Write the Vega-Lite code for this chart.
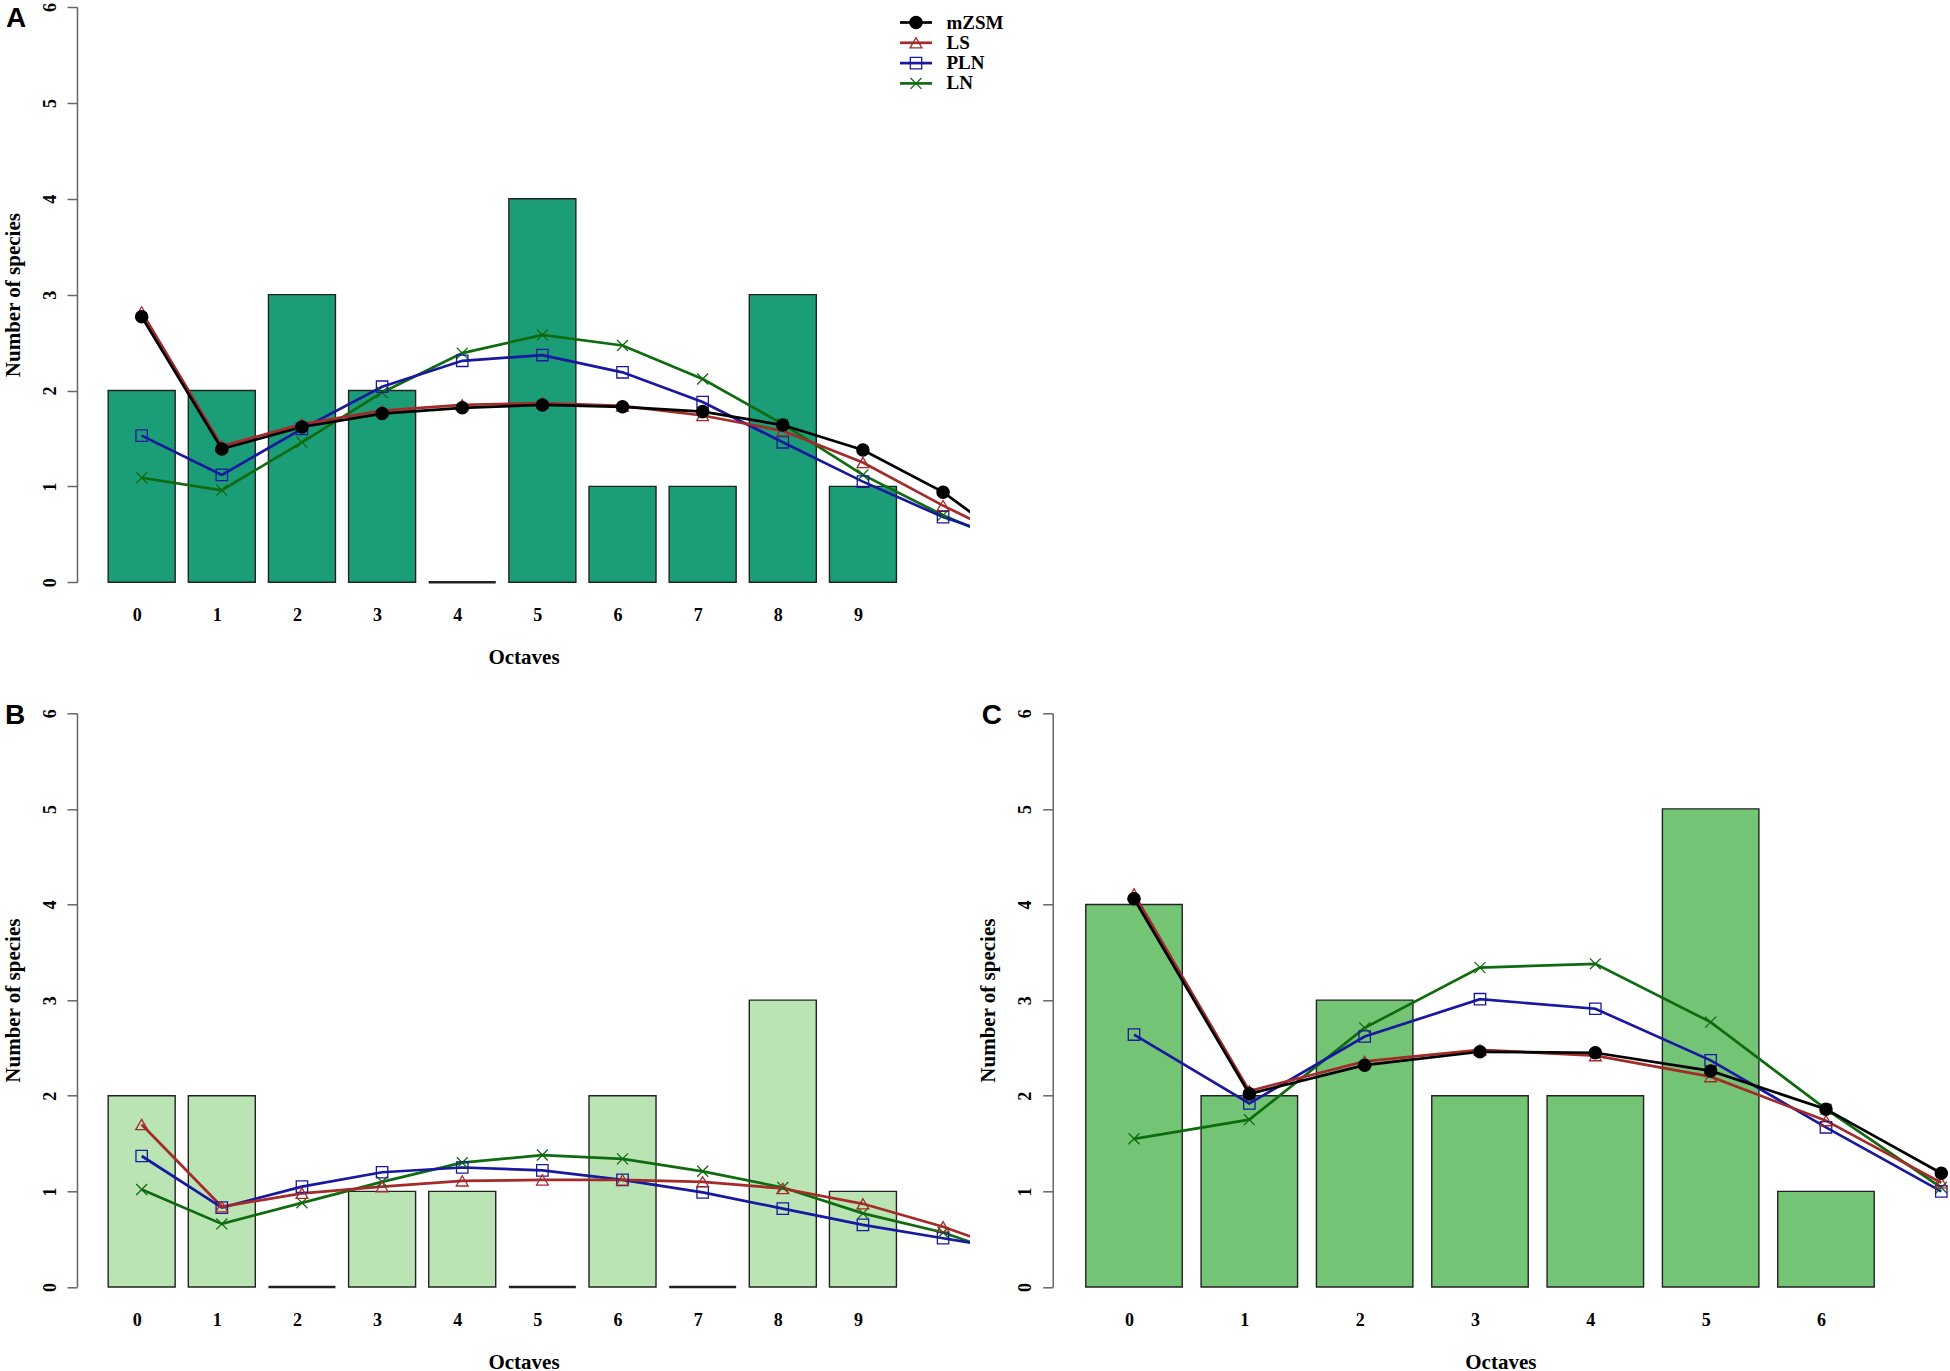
{
  "$schema": "https://vega.github.io/schema/vega-lite/v6.json",
  "background": "white",
  "padding": {"left": 2, "top": 2, "right": 0, "bottom": 0},
  "spacing": 130.3,
  "bounds": "flush",
  "config": {
    "view": {"stroke": null},
    "axis": {"labelFont": "Liberation Serif", "labelFontWeight": "bold", "labelFontSize": 18, "labelColor": "black", "titleFont": "Liberation Serif", "titleFontWeight": "bold", "titleFontSize": 21, "titleColor": "black", "grid": false, "labelFlush": false, "labelOverlap": false},
    "axisX": {"domain": false, "ticks": false, "tickSize": 0, "labelPadding": 33, "labelBaseline": "middle", "labelOffset": -5, "labelAngle": 0, "titlePadding": 22},
    "axisY": {"domainColor": "#666666", "domainWidth": 1.5, "tickColor": "#666666", "tickWidth": 1.5, "tickSize": 10, "labelAngle": 270, "labelAlign": "center", "labelBaseline": "middle", "labelPadding": 17, "titlePadding": 18},
    "legend": {"labelFont": "Liberation Serif", "labelFontWeight": "bold", "labelFontSize": 19, "labelColor": "black", "rowPadding": 0.3, "padding": 0, "orient": "none", "legendX": 829.5, "legendY": 6, "title": null, "symbolSize": 100, "labelOffset": 21}
  },
  "datasets": {
    "bars": [
      {"panel": "A", "octave": 0, "species": 2}, {"panel": "A", "octave": 1, "species": 2}, {"panel": "A", "octave": 2, "species": 3},
      {"panel": "A", "octave": 3, "species": 2}, {"panel": "A", "octave": 4, "species": 0}, {"panel": "A", "octave": 5, "species": 4},
      {"panel": "A", "octave": 6, "species": 1}, {"panel": "A", "octave": 7, "species": 1}, {"panel": "A", "octave": 8, "species": 3},
      {"panel": "A", "octave": 9, "species": 1},
      {"panel": "B", "octave": 0, "species": 2}, {"panel": "B", "octave": 1, "species": 2}, {"panel": "B", "octave": 2, "species": 0},
      {"panel": "B", "octave": 3, "species": 1}, {"panel": "B", "octave": 4, "species": 1}, {"panel": "B", "octave": 5, "species": 0},
      {"panel": "B", "octave": 6, "species": 2}, {"panel": "B", "octave": 7, "species": 0}, {"panel": "B", "octave": 8, "species": 3},
      {"panel": "B", "octave": 9, "species": 1},
      {"panel": "C", "octave": 0, "species": 4}, {"panel": "C", "octave": 1, "species": 2}, {"panel": "C", "octave": 2, "species": 3},
      {"panel": "C", "octave": 3, "species": 2}, {"panel": "C", "octave": 4, "species": 2}, {"panel": "C", "octave": 5, "species": 5},
      {"panel": "C", "octave": 6, "species": 1}
    ],
    "fits": [
      {"panel": "A", "model": "LN", "octave": 0, "species": 1.09}, {"panel": "A", "model": "LN", "octave": 1, "species": 0.96},
      {"panel": "A", "model": "LN", "octave": 2, "species": 1.46}, {"panel": "A", "model": "LN", "octave": 3, "species": 1.98},
      {"panel": "A", "model": "LN", "octave": 4, "species": 2.39}, {"panel": "A", "model": "LN", "octave": 5, "species": 2.58},
      {"panel": "A", "model": "LN", "octave": 6, "species": 2.47}, {"panel": "A", "model": "LN", "octave": 7, "species": 2.12},
      {"panel": "A", "model": "LN", "octave": 8, "species": 1.65}, {"panel": "A", "model": "LN", "octave": 9, "species": 1.12},
      {"panel": "A", "model": "LN", "octave": 10, "species": 0.70}, {"panel": "A", "model": "LN", "octave": 11, "species": 0.34},
      {"panel": "A", "model": "PLN", "octave": 0, "species": 1.53}, {"panel": "A", "model": "PLN", "octave": 1, "species": 1.12},
      {"panel": "A", "model": "PLN", "octave": 2, "species": 1.60}, {"panel": "A", "model": "PLN", "octave": 3, "species": 2.04},
      {"panel": "A", "model": "PLN", "octave": 4, "species": 2.31}, {"panel": "A", "model": "PLN", "octave": 5, "species": 2.37},
      {"panel": "A", "model": "PLN", "octave": 6, "species": 2.19}, {"panel": "A", "model": "PLN", "octave": 7, "species": 1.88},
      {"panel": "A", "model": "PLN", "octave": 8, "species": 1.46}, {"panel": "A", "model": "PLN", "octave": 9, "species": 1.05},
      {"panel": "A", "model": "PLN", "octave": 10, "species": 0.68}, {"panel": "A", "model": "PLN", "octave": 11, "species": 0.40},
      {"panel": "A", "model": "LS", "octave": 0, "species": 2.82}, {"panel": "A", "model": "LS", "octave": 1, "species": 1.42},
      {"panel": "A", "model": "LS", "octave": 2, "species": 1.65}, {"panel": "A", "model": "LS", "octave": 3, "species": 1.79},
      {"panel": "A", "model": "LS", "octave": 4, "species": 1.85}, {"panel": "A", "model": "LS", "octave": 5, "species": 1.87},
      {"panel": "A", "model": "LS", "octave": 6, "species": 1.84}, {"panel": "A", "model": "LS", "octave": 7, "species": 1.74},
      {"panel": "A", "model": "LS", "octave": 8, "species": 1.58}, {"panel": "A", "model": "LS", "octave": 9, "species": 1.25},
      {"panel": "A", "model": "LS", "octave": 10, "species": 0.80}, {"panel": "A", "model": "LS", "octave": 11, "species": 0.39},
      {"panel": "A", "model": "mZSM", "octave": 0, "species": 2.77}, {"panel": "A", "model": "mZSM", "octave": 1, "species": 1.39},
      {"panel": "A", "model": "mZSM", "octave": 2, "species": 1.62}, {"panel": "A", "model": "mZSM", "octave": 3, "species": 1.76},
      {"panel": "A", "model": "mZSM", "octave": 4, "species": 1.82}, {"panel": "A", "model": "mZSM", "octave": 5, "species": 1.85},
      {"panel": "A", "model": "mZSM", "octave": 6, "species": 1.83}, {"panel": "A", "model": "mZSM", "octave": 7, "species": 1.78},
      {"panel": "A", "model": "mZSM", "octave": 8, "species": 1.64}, {"panel": "A", "model": "mZSM", "octave": 9, "species": 1.38},
      {"panel": "A", "model": "mZSM", "octave": 10, "species": 0.94}, {"panel": "A", "model": "mZSM", "octave": 11, "species": 0.33},
      {"panel": "B", "model": "LN", "octave": 0, "species": 1.02}, {"panel": "B", "model": "LN", "octave": 1, "species": 0.66},
      {"panel": "B", "model": "LN", "octave": 2, "species": 0.88}, {"panel": "B", "model": "LN", "octave": 3, "species": 1.10},
      {"panel": "B", "model": "LN", "octave": 4, "species": 1.30}, {"panel": "B", "model": "LN", "octave": 5, "species": 1.38},
      {"panel": "B", "model": "LN", "octave": 6, "species": 1.34}, {"panel": "B", "model": "LN", "octave": 7, "species": 1.21},
      {"panel": "B", "model": "LN", "octave": 8, "species": 1.04}, {"panel": "B", "model": "LN", "octave": 9, "species": 0.77},
      {"panel": "B", "model": "LN", "octave": 10, "species": 0.57}, {"panel": "B", "model": "LN", "octave": 11, "species": 0.28},
      {"panel": "B", "model": "PLN", "octave": 0, "species": 1.37}, {"panel": "B", "model": "PLN", "octave": 1, "species": 0.83},
      {"panel": "B", "model": "PLN", "octave": 2, "species": 1.05}, {"panel": "B", "model": "PLN", "octave": 3, "species": 1.20},
      {"panel": "B", "model": "PLN", "octave": 4, "species": 1.25}, {"panel": "B", "model": "PLN", "octave": 5, "species": 1.22},
      {"panel": "B", "model": "PLN", "octave": 6, "species": 1.12}, {"panel": "B", "model": "PLN", "octave": 7, "species": 0.99},
      {"panel": "B", "model": "PLN", "octave": 8, "species": 0.82}, {"panel": "B", "model": "PLN", "octave": 9, "species": 0.65},
      {"panel": "B", "model": "PLN", "octave": 10, "species": 0.51}, {"panel": "B", "model": "PLN", "octave": 11, "species": 0.37},
      {"panel": "B", "model": "LS", "octave": 0, "species": 1.70}, {"panel": "B", "model": "LS", "octave": 1, "species": 0.84},
      {"panel": "B", "model": "LS", "octave": 2, "species": 0.98}, {"panel": "B", "model": "LS", "octave": 3, "species": 1.05},
      {"panel": "B", "model": "LS", "octave": 4, "species": 1.11}, {"panel": "B", "model": "LS", "octave": 5, "species": 1.12},
      {"panel": "B", "model": "LS", "octave": 6, "species": 1.12}, {"panel": "B", "model": "LS", "octave": 7, "species": 1.10},
      {"panel": "B", "model": "LS", "octave": 8, "species": 1.03}, {"panel": "B", "model": "LS", "octave": 9, "species": 0.87},
      {"panel": "B", "model": "LS", "octave": 10, "species": 0.63}, {"panel": "B", "model": "LS", "octave": 11, "species": 0.33},
      {"panel": "C", "model": "LN", "octave": 0, "species": 1.55}, {"panel": "C", "model": "LN", "octave": 1, "species": 1.75},
      {"panel": "C", "model": "LN", "octave": 2, "species": 2.71}, {"panel": "C", "model": "LN", "octave": 3, "species": 3.34},
      {"panel": "C", "model": "LN", "octave": 4, "species": 3.38}, {"panel": "C", "model": "LN", "octave": 5, "species": 2.77},
      {"panel": "C", "model": "LN", "octave": 6, "species": 1.86}, {"panel": "C", "model": "LN", "octave": 7, "species": 1.04},
      {"panel": "C", "model": "PLN", "octave": 0, "species": 2.64}, {"panel": "C", "model": "PLN", "octave": 1, "species": 1.92},
      {"panel": "C", "model": "PLN", "octave": 2, "species": 2.62}, {"panel": "C", "model": "PLN", "octave": 3, "species": 3.01},
      {"panel": "C", "model": "PLN", "octave": 4, "species": 2.91}, {"panel": "C", "model": "PLN", "octave": 5, "species": 2.37},
      {"panel": "C", "model": "PLN", "octave": 6, "species": 1.67}, {"panel": "C", "model": "PLN", "octave": 7, "species": 1.00},
      {"panel": "C", "model": "LS", "octave": 0, "species": 4.11}, {"panel": "C", "model": "LS", "octave": 1, "species": 2.05},
      {"panel": "C", "model": "LS", "octave": 2, "species": 2.36}, {"panel": "C", "model": "LS", "octave": 3, "species": 2.48},
      {"panel": "C", "model": "LS", "octave": 4, "species": 2.42}, {"panel": "C", "model": "LS", "octave": 5, "species": 2.20},
      {"panel": "C", "model": "LS", "octave": 6, "species": 1.74}, {"panel": "C", "model": "LS", "octave": 7, "species": 1.09},
      {"panel": "C", "model": "mZSM", "octave": 0, "species": 4.06}, {"panel": "C", "model": "mZSM", "octave": 1, "species": 2.02},
      {"panel": "C", "model": "mZSM", "octave": 2, "species": 2.32}, {"panel": "C", "model": "mZSM", "octave": 3, "species": 2.46},
      {"panel": "C", "model": "mZSM", "octave": 4, "species": 2.45}, {"panel": "C", "model": "mZSM", "octave": 5, "species": 2.26},
      {"panel": "C", "model": "mZSM", "octave": 6, "species": 1.86}, {"panel": "C", "model": "mZSM", "octave": 7, "species": 1.19}
    ]
  },
  "vconcat": [
    {
      "width": 893,
      "height": 575.3,
      "title": {"text": "A", "anchor": "start", "frame": "group", "orient": "top", "offset": -52.7, "dx": -71, "baseline": "alphabetic", "font": "Liberation Sans", "fontSize": 28, "fontWeight": "bold", "color": "black"},
      "layer": [
        {
          "data": {"name": "bars"},
          "transform": [{"filter": "datum.panel === 'A'"}],
          "mark": {"type": "bar", "orient": "vertical", "width": 67, "fill": "#1b9e77", "stroke": "#222222"},
          "encoding": {
            "x": {"field": "octave", "type": "quantitative", "title": "Octaves", "scale": {"domain": [-0.807, 10.336], "nice": false, "zero": false, "padding": 0}, "axis": {"values": [0, 1, 2, 3, 4, 5, 6, 7, 8, 9], "format": "d"}},
            "y": {"field": "species", "type": "quantitative", "title": "Number of species", "stack": null, "scale": {"domain": [0, 6], "nice": false}, "axis": {"values": [0, 1, 2, 3, 4, 5, 6], "format": "d"}},
            "strokeWidth": {"condition": {"test": "datum.species === 0", "value": 2.4}, "value": 1.4}
          }
        },
        {
          "data": {"name": "fits"},
          "transform": [{"filter": "datum.panel === 'A'"}],
          "mark": {"type": "line", "strokeWidth": 2.7, "clip": true},
          "encoding": {
            "x": {"field": "octave", "type": "quantitative", "title": "Octaves", "scale": {"domain": [-0.807, 10.336], "nice": false, "zero": false, "padding": 0}},
            "y": {"field": "species", "type": "quantitative", "title": "Number of species", "scale": {"domain": [0, 6], "nice": false}},
            "stroke": {"field": "model", "type": "nominal",
              "scale": {"domain": ["mZSM", "LS", "PLN", "LN", "none"], "range": ["#000000", "#a52a2a", "#1818a0", "#0f6b0f", "#ffffff"]},
              "legend": {"values": ["mZSM", "LS", "PLN", "LN"], "symbolType": "M-3.2,0L3.2,0", "symbolStrokeWidth": 2.7}}
          }
        },
        {
          "data": {"name": "fits"},
          "transform": [{"filter": "datum.panel === 'A'"}],
          "mark": {"type": "point", "filled": false, "strokeWidth": 1.3, "opacity": 1, "clip": true},
          "encoding": {
            "x": {"field": "octave", "type": "quantitative", "title": "Octaves", "scale": {"domain": [-0.807, 10.336], "nice": false, "zero": false, "padding": 0}},
            "y": {"field": "species", "type": "quantitative", "title": "Number of species", "scale": {"domain": [0, 6], "nice": false}},
            "color": {"field": "model", "type": "nominal", "scale": {"domain": ["mZSM", "LS", "PLN", "LN"], "range": ["#000000", "#a52a2a", "#1818a0", "#0f6b0f"]},
              "legend": {"symbolStrokeWidth": 1.3, "labelExpr": "''"}},
            "fill": {"field": "model", "type": "nominal", "scale": {"domain": ["mZSM", "LS", "PLN", "LN"], "range": ["#000000", "transparent", "transparent", "transparent"]},
              "legend": {"symbolStrokeWidth": 1.3, "labelExpr": "''"}},
            "shape": {"field": "model", "type": "nominal", "scale": {"domain": ["mZSM", "LS", "PLN", "LN"], "range": ["circle", "triangle-up", "square", "M-1,-1L1,1M-1,1L1,-1"]},
              "legend": {"symbolStrokeWidth": 1.3, "labelExpr": "''"}},
            "size": {"field": "model", "type": "nominal", "scale": {"domain": ["mZSM", "LS", "PLN", "LN"], "range": [150, 120, 70, 90]},
              "legend": {"symbolStrokeWidth": 1.3, "labelExpr": "''"}}
          }
        }
      ]
    },
    {
      "hconcat": [
        {
          "width": 893,
          "height": 573.7,
          "title": {"text": "B", "anchor": "start", "frame": "group", "orient": "top", "offset": -43.4, "dx": -72, "baseline": "alphabetic", "font": "Liberation Sans", "fontSize": 28, "fontWeight": "bold", "color": "black"},
          "layer": [
            {
              "data": {"name": "bars"},
              "transform": [{"filter": "datum.panel === 'B'"}],
              "mark": {"type": "bar", "orient": "vertical", "width": 67, "fill": "#bae4b3", "stroke": "#222222"},
              "encoding": {
                "x": {"field": "octave", "type": "quantitative", "title": "Octaves", "scale": {"domain": [-0.807, 10.336], "nice": false, "zero": false, "padding": 0}, "axis": {"values": [0, 1, 2, 3, 4, 5, 6, 7, 8, 9], "format": "d"}},
                "y": {"field": "species", "type": "quantitative", "title": "Number of species", "stack": null, "scale": {"domain": [0, 6], "nice": false}, "axis": {"values": [0, 1, 2, 3, 4, 5, 6], "format": "d"}},
                "strokeWidth": {"condition": {"test": "datum.species === 0", "value": 2.4}, "value": 1.4}
              }
            },
            {
              "data": {"name": "fits"},
              "transform": [{"filter": "datum.panel === 'B'"}],
              "mark": {"type": "line", "strokeWidth": 2.7, "clip": true},
              "encoding": {
                "x": {"field": "octave", "type": "quantitative", "title": "Octaves", "scale": {"domain": [-0.807, 10.336], "nice": false, "zero": false, "padding": 0}},
                "y": {"field": "species", "type": "quantitative", "title": "Number of species", "scale": {"domain": [0, 6], "nice": false}},
                "stroke": {"field": "model", "type": "nominal", "scale": {"domain": ["mZSM", "LS", "PLN", "LN", "none"], "range": ["#000000", "#a52a2a", "#1818a0", "#0f6b0f", "#ffffff"]}, "legend": null}
              }
            },
            {
              "data": {"name": "fits"},
              "transform": [{"filter": "datum.panel === 'B'"}],
              "mark": {"type": "point", "filled": false, "strokeWidth": 1.3, "opacity": 1, "clip": true},
              "encoding": {
                "x": {"field": "octave", "type": "quantitative", "title": "Octaves", "scale": {"domain": [-0.807, 10.336], "nice": false, "zero": false, "padding": 0}},
                "y": {"field": "species", "type": "quantitative", "title": "Number of species", "scale": {"domain": [0, 6], "nice": false}},
                "color": {"field": "model", "type": "nominal", "scale": {"domain": ["mZSM", "LS", "PLN", "LN"], "range": ["#000000", "#a52a2a", "#1818a0", "#0f6b0f"]}, "legend": null},
                "fill": {"field": "model", "type": "nominal", "scale": {"domain": ["mZSM", "LS", "PLN", "LN"], "range": ["#000000", "transparent", "transparent", "transparent"]}, "legend": null},
                "shape": {"field": "model", "type": "nominal", "scale": {"domain": ["mZSM", "LS", "PLN", "LN"], "range": ["circle", "triangle-up", "square", "M-1,-1L1,1M-1,1L1,-1"]}, "legend": null},
                "size": {"field": "model", "type": "nominal", "scale": {"domain": ["mZSM", "LS", "PLN", "LN"], "range": [150, 120, 70, 90]}, "legend": null}
              }
            }
          ]
        },
        {
          "width": 895.3,
          "height": 573.7,
          "title": {"text": "C", "anchor": "start", "frame": "group", "orient": "top", "offset": -43.4, "dx": -71, "baseline": "alphabetic", "font": "Liberation Sans", "fontSize": 28, "fontWeight": "bold", "color": "black"},
          "layer": [
            {
              "data": {"name": "bars"},
              "transform": [{"filter": "datum.panel === 'C'"}],
              "mark": {"type": "bar", "orient": "vertical", "width": 96.5, "fill": "#74c476", "stroke": "#222222"},
              "encoding": {
                "x": {"field": "octave", "type": "quantitative", "title": "Octaves", "scale": {"domain": [-0.705, 7.058], "nice": false, "zero": false, "padding": 0}, "axis": {"values": [0, 1, 2, 3, 4, 5, 6], "format": "d"}},
                "y": {"field": "species", "type": "quantitative", "title": "Number of species", "stack": null, "scale": {"domain": [0, 6], "nice": false}, "axis": {"values": [0, 1, 2, 3, 4, 5, 6], "format": "d"}},
                "strokeWidth": {"condition": {"test": "datum.species === 0", "value": 2.4}, "value": 1.4}
              }
            },
            {
              "data": {"name": "fits"},
              "transform": [{"filter": "datum.panel === 'C'"}],
              "mark": {"type": "line", "strokeWidth": 2.7, "clip": true},
              "encoding": {
                "x": {"field": "octave", "type": "quantitative", "title": "Octaves", "scale": {"domain": [-0.705, 7.058], "nice": false, "zero": false, "padding": 0}},
                "y": {"field": "species", "type": "quantitative", "title": "Number of species", "scale": {"domain": [0, 6], "nice": false}},
                "stroke": {"field": "model", "type": "nominal", "scale": {"domain": ["mZSM", "LS", "PLN", "LN", "none"], "range": ["#000000", "#a52a2a", "#1818a0", "#0f6b0f", "#ffffff"]}, "legend": null}
              }
            },
            {
              "data": {"name": "fits"},
              "transform": [{"filter": "datum.panel === 'C'"}],
              "mark": {"type": "point", "filled": false, "strokeWidth": 1.3, "opacity": 1, "clip": true},
              "encoding": {
                "x": {"field": "octave", "type": "quantitative", "title": "Octaves", "scale": {"domain": [-0.705, 7.058], "nice": false, "zero": false, "padding": 0}},
                "y": {"field": "species", "type": "quantitative", "title": "Number of species", "scale": {"domain": [0, 6], "nice": false}},
                "color": {"field": "model", "type": "nominal", "scale": {"domain": ["mZSM", "LS", "PLN", "LN"], "range": ["#000000", "#a52a2a", "#1818a0", "#0f6b0f"]}, "legend": null},
                "fill": {"field": "model", "type": "nominal", "scale": {"domain": ["mZSM", "LS", "PLN", "LN"], "range": ["#000000", "transparent", "transparent", "transparent"]}, "legend": null},
                "shape": {"field": "model", "type": "nominal", "scale": {"domain": ["mZSM", "LS", "PLN", "LN"], "range": ["circle", "triangle-up", "square", "M-1,-1L1,1M-1,1L1,-1"]}, "legend": null},
                "size": {"field": "model", "type": "nominal", "scale": {"domain": ["mZSM", "LS", "PLN", "LN"], "range": [150, 120, 70, 90]}, "legend": null}
              }
            }
          ]
        }
      ],
      "spacing": 82.7,
      "bounds": "flush"
    }
  ]
}
